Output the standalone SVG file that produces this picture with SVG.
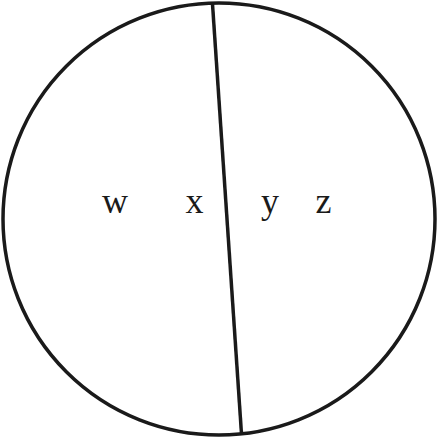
<svg xmlns="http://www.w3.org/2000/svg" width="438" height="438" viewBox="0 0 438 438">
<style>
.s{fill:none;stroke:#1a1a1a;stroke-width:3.5}
.t{font-family:"Liberation Serif","Times New Roman",serif;font-size:36px;fill:#1a1a1a;text-anchor:middle}
</style>
<rect width="438" height="438" fill="#fff"/>
<g id="circle"><circle class="s" cx="219" cy="219" r="216"/></g>
<g id="connectors"><line class="s" x1="212.5" y1="4" x2="241.5" y2="434"/></g>
<g id="labels">
<text class="t" x="115" y="213">w</text>
<text class="t" x="194.5" y="213">x</text>
<text class="t" x="270" y="213">y</text>
<text class="t" x="323.5" y="213">z</text>
</g>
</svg>
